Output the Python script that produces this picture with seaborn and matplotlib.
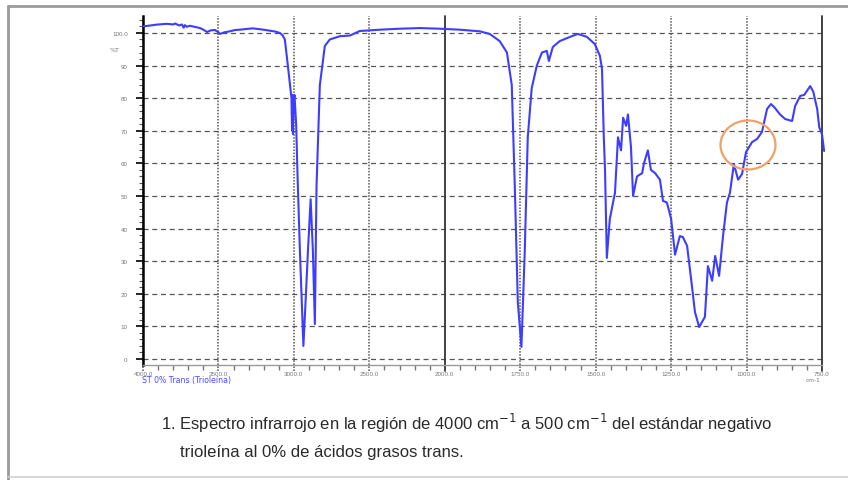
import numpy as np
import pandas as pd
import matplotlib
matplotlib.use("Agg")
import matplotlib.pyplot as plt
import seaborn as sns
from matplotlib.patches import Ellipse
from matplotlib.lines import Line2D

# ---------------- data ----------------
wavenumber = [4000, 3900, 3841, 3800, 3788, 3760, 3742, 3730, 3722, 3710, 3689,
              3650, 3622, 3600, 3576, 3550, 3523, 3500, 3490, 3460, 3424, 3390,
              3358, 3300, 3271, 3200, 3159, 3120, 3093, 3075, 3060, 3040, 3026,
              3016, 3012, 3009, 3006, 3002, 2996, 2985, 2975, 2960, 2937, 2920,
              2907, 2889, 2874, 2861, 2850, 2828, 2795, 2762, 2695, 2629, 2563,
              2430, 2298, 2165, 2033, 1950, 1884, 1851, 1818, 1794, 1778, 1768,
              1758, 1746, 1735, 1725, 1712, 1695, 1678, 1662, 1655, 1642, 1619,
              1585, 1559, 1529, 1503, 1486, 1479, 1473, 1469, 1463, 1453, 1436,
              1426, 1416, 1409, 1399, 1393, 1383, 1376, 1363, 1346, 1340, 1327,
              1317, 1303, 1287, 1277, 1264, 1250, 1237, 1221, 1211, 1197, 1181,
              1171, 1157, 1138, 1128, 1114, 1104, 1091, 1078, 1065, 1055, 1042,
              1028, 1015, 1002, 982, 965, 949, 932, 919, 906, 889, 872, 849, 839,
              822, 809, 789, 779, 766, 759, 750, 743]
transmittance = [102.0, 102.6, 102.8, 102.6, 102.9, 102.3, 102.6, 101.6, 102.4, 101.9, 102.2,
                 101.8, 101.5, 101.0, 100.3, 100.8, 100.9, 100.2, 99.7, 100.2, 100.5, 100.9,
                 101.0, 101.3, 101.4, 101.0, 100.7, 100.4, 100.0, 99.3, 98.0, 90.0, 84.0,
                 80.0, 70.0, 81.0, 69.0, 79.0, 81.0, 72.0, 55.0, 33.0, 4.0, 20.0,
                 33.0, 49.0, 33.0, 10.7, 53.0, 84.0, 96.0, 98.0, 99.0, 99.2, 100.6,
                 101.0, 101.3, 101.5, 101.3, 101.0, 100.5, 99.7, 97.5, 94.0, 84.0, 53.0,
                 17.5, 3.7, 33.0, 68.0, 83.0, 90.0, 94.0, 94.5, 91.4, 95.7, 97.5,
                 98.8, 99.7, 98.8, 96.6, 93.0, 89.0, 68.0, 58.0, 31.0, 43.0, 51.0,
                 68.0, 64.0, 74.0, 71.5, 75.0, 65.0, 50.0, 56.0, 57.0, 60.0, 64.0,
                 58.0, 57.0, 55.0, 48.5, 48.0, 43.0, 32.0, 37.7, 37.4, 34.7, 22.4,
                 14.4, 9.8, 12.9, 28.5, 24.0, 31.6, 25.5, 37.7, 48.0, 51.0, 59.8,
                 55.0, 56.7, 63.4, 66.5, 67.5, 69.6, 76.7, 78.2, 77.0, 75.0, 73.6, 73.0, 77.6,
                 80.7, 81.0, 83.7, 82.0, 76.7, 71.0, 69.0, 63.8]

x_major = [4000, 3500, 3000, 2500, 2000, 1750, 1500, 1250, 1000, 750]
x_labels = ["4000.0", "3500.0", "3000.0", "2500.0", "2000.0", "1750.0",
            "1500.0", "1250.0", "1000.0", "750.0"]
y_major = [0, 10, 20, 30, 40, 50, 60, 70, 80, 90, 100]
y_labels = ["0", "10", "20", "30", "40", "50", "60", "70", "80", "90", "100.0"]
y_unit = "%T"
x_unit = "cm-1"
series_label = "ST 0% Trans (Trioleína)"
caption_1 = "1. Espectro infrarrojo en la región de 4000 cm$^{-1}$ a 500 cm$^{-1}$ del estándar negativo"
caption_2 = "trioleína al 0% de ácidos grasos trans."

df = pd.DataFrame({"wavenumber": wavenumber, "T": transmittance})

# ---------------- style ----------------
sns.set_theme(style="white")
plt.rcParams["font.family"] = ["Liberation Sans Narrow", "Liberation Sans", "DejaVu Sans"]
plt.rcParams["mathtext.fontset"] = "custom"
plt.rcParams["mathtext.rm"] = "Liberation Sans Narrow"
plt.rcParams["mathtext.it"] = "Liberation Sans Narrow"
plt.rcParams["mathtext.bf"] = "Liberation Sans Narrow"

W, H = 848, 481
fig = plt.figure(figsize=(W / 100, H / 100), dpi=100)
fig.patch.set_facecolor("white")

# axes placement in pixels (left, top, right, bottom)
L, T_, R, B = 143, 17, 822, 366
ax = fig.add_axes([L / W, 1 - B / H, (R - L) / W, (B - T_) / H])


def fwd(w):
    w = np.asarray(w, dtype=float)
    return np.where(w >= 2000, 4 + (w - 2000) / 500.0, 4 + (w - 2000) / 250.0)


def inv(u):
    u = np.asarray(u, dtype=float)
    return np.where(u >= 4, 2000 + (u - 4) * 500.0, 2000 + (u - 4) * 250.0)


ax.set_xscale("function", functions=(fwd, inv))
ax.set_xlim(4000, 750)
ax.set_ylim(-1.84, 105.2)

# grid lines
for v in y_major:
    ax.axhline(v, color="#555555", lw=0.9, ls=(0, (4, 3)), zorder=1)
for v in x_major:
    solid = v in (2000, 750)
    ax.axvline(v, ymin=-0.017, ymax=1.0, color="#333333" if solid else "#555555",
               lw=1.3 if solid else 1.1, ls="-" if solid else (0, (1, 1)),
               clip_on=False, zorder=1)

sns.lineplot(data=df, x="wavenumber", y="T", sort=False, estimator=None,
             color="#3d3dff", lw=1.5, ax=ax, zorder=3)
for ln in ax.lines[-1:]:
    ln.set_clip_on(False)

# spines
for s in ("top", "right"):
    ax.spines[s].set_visible(False)
ax.spines["left"].set_color("black")
ax.spines["left"].set_linewidth(1.8)
ax.spines["bottom"].set_color("#9a9a9a")
ax.spines["bottom"].set_linewidth(1.0)

# ticks
ax.set_xticks(x_major)
ax.set_xticklabels(x_labels)
minor_x = list(range(3900, 2000, -100)) + list(range(1950, 750, -50))
minor_x = [m for m in minor_x if m not in x_major]
ax.set_xticks(minor_x, minor=True)
ax.set_yticks(y_major)
ax.set_yticklabels(y_labels)
ax.set_yticks(list(range(0, 105, 2)), minor=True)

ax.tick_params(axis="x", which="major", length=0, pad=4, labelsize=4.5,
               labelcolor="#777777")
ax.tick_params(axis="x", which="minor", direction="out", length=3.5, width=1.0,
               color="#777777", bottom=True)
ax.tick_params(axis="y", which="major", direction="out", length=5, width=1.2,
               color="black", pad=6, labelsize=4.5, labelcolor="#777777", left=True)
ax.tick_params(axis="y", which="minor", direction="out", length=3, width=0.8,
               color="#555555", left=True)
ax.set_xlabel("")
ax.set_ylabel("")

# small axis texts
fig.text(115 / W, 1 - 50 / H, y_unit, fontsize=4.5, color="#777777",
         ha="center", va="center", family=["DejaVu Sans"])
fig.text(813 / W, 1 - 381 / H, x_unit, fontsize=4.2, color="#777777",
         ha="center", va="center", family=["DejaVu Sans"])
fig.text(142 / W, 1 - 381 / H, series_label, fontsize=5.6, color="#4a4aff",
         ha="left", va="center", family=["DejaVu Sans"])

# highlight ellipse
fig.patches.append(Ellipse((748 / W, 1 - 146 / H), 55 / W, 49 / H,
                           transform=fig.transFigure, fill=False,
                           edgecolor="#f0a06a", lw=1.6))

# caption
t1 = fig.text(161 / W, 1 - 423 / H, caption_1, fontsize=12.5, color="#2a2a2a",
              ha="left", va="center")
t2 = fig.text(180 / W, 1 - 453 / H, caption_2, fontsize=12.5, color="#2a2a2a",
              ha="left", va="center")
fig.canvas.draw()
wpx = t1.get_window_extent().width
target = 773 - 161
fs = 12.5 * target / wpx
t1.set_fontsize(fs)
t2.set_fontsize(fs)

# page frame
fig.lines.append(Line2D([8 / W, 1], [1 - 7 / H, 1 - 7 / H], transform=fig.transFigure,
                        color="#9a9a9a", lw=2.0))
fig.lines.append(Line2D([8 / W, 8 / W], [1 - 7 / H, 0], transform=fig.transFigure,
                        color="#9a9a9a", lw=2.0))
fig.lines.append(Line2D([8 / W, 1], [1 - 478 / H, 1 - 478 / H], transform=fig.transFigure,
                        color="#d0d0d0", lw=1.2))

fig.savefig("out.png", dpi=100, facecolor="white")
